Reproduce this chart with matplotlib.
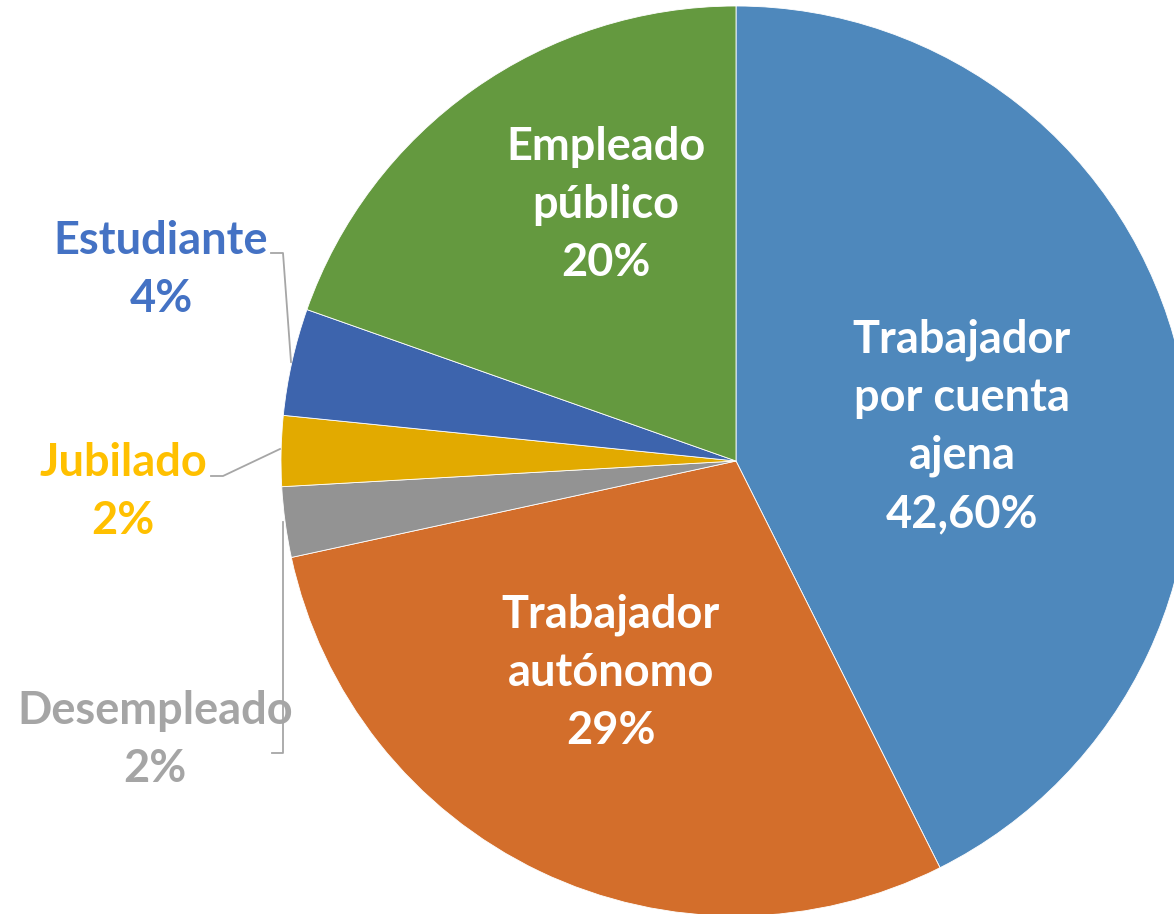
import matplotlib.pyplot as plt

plt.rcParams['font.family'] = ['Lato', 'DejaVu Sans']

LABELS = ['Trabajador\npor cuenta\najena', 'Trabajador\nautónomo', 'Desempleado',
          'Jubilado', 'Estudiante', 'Empleado\npúblico']
VALUES = [42.6, 29.0, 2.5, 2.5, 3.8, 19.6]
PCT_TEXT = ['42,60%', '29%', '2%', '2%', '4%', '20%']
COLORS = ['#4E88BC', '#D36E2B', '#939393', '#E2AA00', '#3D64AD', '#64993F']
TEXT_COLORS = ['white', 'white', '#A5A5A5', '#FFC000', '#4472C4', 'white']

W, H = 1174, 914
CX, CY, R = 736, 461, 455


def px(x, y):
    # pixel coords of the reference -> data coords (pie radius = 1)
    return (x - CX) / R, (CY - y) / R


fig = plt.figure(figsize=(W / 100, H / 100), dpi=100)
ax = fig.add_axes([0, 0, 1, 1])
ax.pie(VALUES, colors=COLORS, startangle=90, counterclock=False, radius=1,
       wedgeprops=dict(edgecolor='white', linewidth=0.6))
ax.set_xlim(-CX / R, (W - CX) / R)
ax.set_ylim((CY - H) / R, CY / R)
ax.set_aspect('auto')
ax.axis('off')

# label centres (pixels in the reference)
label_pos = [(962, 427), (611, 673), (155, 740), (123, 492), (161, 270), (606, 205)]
for lab, pct, col, (lx, ly) in zip(LABELS, PCT_TEXT, TEXT_COLORS, label_pos):
    x, y = px(lx, ly)
    ax.text(x, y, lab + '\n' + pct, ha='center', va='center', color=col,
            fontsize=32.5, fontweight='bold', linespacing=1.47)

# leader lines
leaders = [
    [(271, 253), (283, 253), (291, 362)],
    [(211, 476), (223, 476), (280, 449)],
    [(283, 522), (283, 753), (272, 753)],
]
for pts in leaders:
    xs, ys = zip(*[px(a, b) for a, b in pts])
    ax.plot(xs, ys, color='#A6A6A6', linewidth=1.3)

fig.savefig('out.png', dpi=100)
